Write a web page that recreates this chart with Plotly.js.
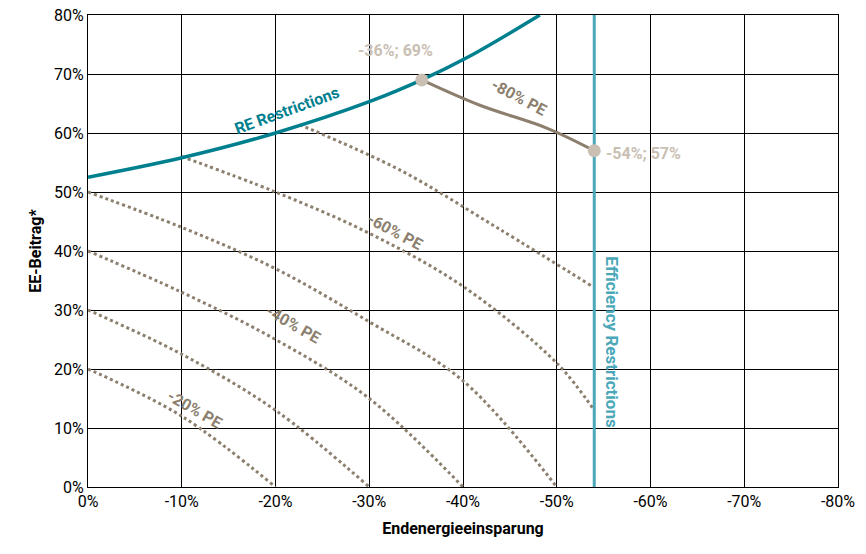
<!DOCTYPE html>
<html>
<head>
<meta charset="utf-8">
<script src="https://cdn.plot.ly/plotly-3.0.1.min.js"></script>
<style>body{margin:0;background:#fff}#chart{width:866px;height:554px}</style>
</head>
<body>
<div id="chart"></div>
<script>
// values: x = final energy saving (negative %), y = RE share %
const pe20X = [0, -10, -20];
const pe20Y = [20, 12, 0];
const pe30X = [0, -10, -20, -30];
const pe30Y = [30, 22.5, 13, 0];
const pe40X = [0, -10, -20, -30, -40];
const pe40Y = [40, 33, 25, 15, 0];
const pe50X = [0, -10, -20, -30, -40, -50];
const pe50Y = [50, 44, 37, 28, 18, 0];
const pe60X = [-10, -20, -30, -40, -50, -54];
const pe60Y = [56, 50, 43, 34, 21, 13];
const pe70X = [-22.6, -33.3, -44, -53.8];
const pe70Y = [61.4, 53.7, 43.6, 34];
const pe80X = [-35.6, -41.8, -49, -54];
const pe80Y = [69, 64.7, 60.8, 57];
const reX = [0, -10, -20, -30, -35.6, -40.7, -48.2];
const reY = [52.5, 55.8, 60, 65.3, 69, 73, 80];
const effX = [-54, -54];
const effY = [0, 80];
const pointX = [-35.6, -54];
const pointY = [69, 57];
const xTicks = [0, -10, -20, -30, -40, -50, -60, -70, -80];
const yTicks = [0, 10, 20, 30, 40, 50, 60, 70, 80];

const brown = '#8c7f6e';
const font = 'Liberation Sans Narrow, Arial Narrow, Roboto, sans-serif';

function dotted(x, y) {
    return {x: x, y: y, mode: 'lines', line: {color: brown, width: 3, dash: 'dot', shape: 'spline'}, hoverinfo: 'skip'};
}

const traces = [
    dotted(pe20X, pe20Y), dotted(pe30X, pe30Y), dotted(pe40X, pe40Y),
    dotted(pe50X, pe50Y), dotted(pe60X, pe60Y), dotted(pe70X, pe70Y),
    {x: pe80X, y: pe80Y, mode: 'lines', line: {color: brown, width: 3, shape: 'spline'}},
    {x: reX, y: reY, mode: 'lines', line: {color: '#00808f', width: 3.5, shape: 'spline'}},
    {x: effX, y: effY, mode: 'lines', line: {color: '#4aa8b8', width: 3}},
    {x: pointX, y: pointY, mode: 'markers', marker: {color: '#c9c0b3', size: 13}}
];

function label(x, y, text, angle, color, extra) {
    return Object.assign({x: x, y: y, text: text, showarrow: false, textangle: angle,
        font: {family: font, size: 16, color: color, weight: 'bold'}}, extra || {});
}

const layout = {
    width: 866, height: 554,
    margin: {l: 88, r: 28, t: 15, b: 67},
    showlegend: false,
    plot_bgcolor: '#fff', paper_bgcolor: '#fff',
    font: {family: font, size: 16, color: '#000'},
    xaxis: {
        range: [0, -80], tickvals: xTicks, ticktext: xTicks.map(v => v + '%'),
        showgrid: true, gridcolor: '#000', gridwidth: 1, zeroline: false,
        showline: true, linecolor: '#000', mirror: true, ticks: '',
        title: {text: '<b>Endenergieeinsparung</b>', font: {size: 16}, standoff: 12}
    },
    yaxis: {
        range: [0, 80], tickvals: yTicks, ticktext: yTicks.map(v => v + '%'),
        showgrid: true, gridcolor: '#000', gridwidth: 1, zeroline: false,
        showline: true, linecolor: '#000', mirror: true, ticks: '',
        title: {text: '<b>EE-Beitrag*</b>', font: {size: 16}, standoff: 8}
    },
    annotations: [
        label(-32.8, 74, '-36%; 69%', 0, '#c9c0b3'),
        label(-55, 56.5, '-54%; 57%', 0, '#c9c0b3', {xanchor: 'left'}),
        label(-46, 66, '-80% PE', 28, brown),
        label(-32.7, 43.3, '-60% PE', 28, brown),
        label(-21.9, 27.5, '-40% PE', 30, brown),
        label(-11.4, 13.2, '-20% PE', 30, brown),
        label(-21.2, 63.8, 'RE Restrictions', -20, '#00808f'),
        label(-55.8, 24.5, 'Efficiency Restrictions', 90, '#4aa8b8', {font: {family: font, size: 17, color: '#4aa8b8', weight: 'bold'}})
    ]
};

Plotly.newPlot('chart', traces, layout, {displayModeBar: false, staticPlot: true});
</script>
</body>
</html>
